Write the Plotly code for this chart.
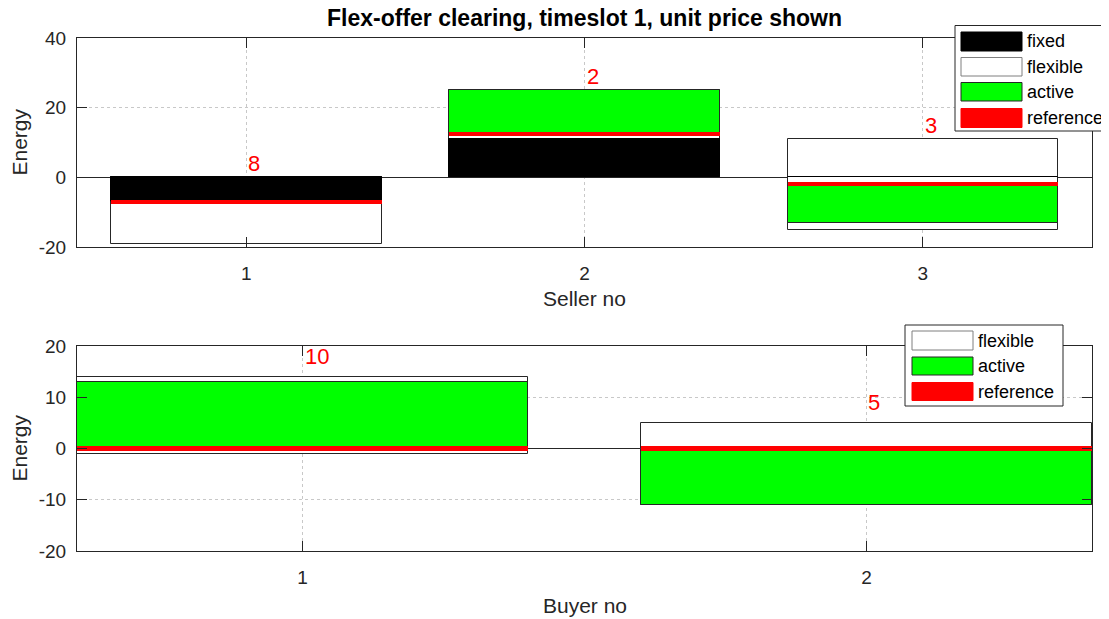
import plotly.graph_objects as go

# ---------------- data ----------------
sellers = [1, 2, 3]
seller_fixed = [-7, 11, 0]
seller_flex_min = [-19, 0, -15]
seller_flex_max = [0, 25, 11]
seller_reference = [-7, 12.3, -1.8]
seller_active_end = [-7, 25, -13]
seller_price = [8, 2, 3]

buyers = [1, 2]
buyer_flex_min = [-1, -11]
buyer_flex_max = [14, 5]
buyer_reference = [0, 0]
buyer_active_end = [13, -11]
buyer_price = [10, 5]

top_yticks = [-20, 0, 20, 40]
bot_yticks = [-20, -10, 0, 10, 20]

title_text = "Flex-offer clearing, timeslot 1, unit price shown"
legend_top = ["fixed", "flexible", "active", "reference"]
legend_bot = ["flexible", "active", "reference"]

# ---------------- style ----------------
OFF = 8  # page body margin
W, H = 1109 - OFF, 619 - OFF
FONT = "Liberation Sans, Arial, sans-serif"
BAR_W = 0.8
REF_T = 1.15
EDGE = "#262626"
C_FIXED = "#000000"
C_FLEX = "#ffffff"
C_ACTIVE = "#00ff00"
C_REF = "#ff0000"
swatch = {
    "fixed": (C_FIXED, "#000000"),
    "flexible": (C_FLEX, "#7f7f7f"),
    "active": (C_ACTIVE, "#262626"),
    "reference": (C_REF, C_REF),
}

fig = go.Figure()


def add_offers(xs, fmin, fmax, fixed, ref, act_end, xa, ya):
    # flexible (positive and negative part)
    fig.add_trace(go.Bar(x=xs, base=[0] * len(xs), y=[max(v, 0) for v in fmax],
                         width=BAR_W, marker=dict(color=C_FLEX, line=dict(color=EDGE, width=1)),
                         xaxis=xa, yaxis=ya, showlegend=False, hoverinfo="skip"))
    fig.add_trace(go.Bar(x=xs, base=[0] * len(xs), y=[min(v, 0) for v in fmin],
                         width=BAR_W, marker=dict(color=C_FLEX, line=dict(color=EDGE, width=1)),
                         xaxis=xa, yaxis=ya, showlegend=False, hoverinfo="skip"))
    if fixed is not None:
        fig.add_trace(go.Bar(x=xs, base=[0] * len(xs), y=fixed,
                             width=BAR_W, marker=dict(color=C_FIXED, line=dict(color="#000000", width=1)),
                             xaxis=xa, yaxis=ya, showlegend=False, hoverinfo="skip"))
    fig.add_trace(go.Bar(x=xs, base=ref, y=[e - r for e, r in zip(act_end, ref)],
                         width=BAR_W, marker=dict(color=C_ACTIVE, line=dict(color=EDGE, width=1)),
                         xaxis=xa, yaxis=ya, showlegend=False, hoverinfo="skip"))
    fig.add_trace(go.Bar(x=xs, base=[r - REF_T / 2 for r in ref], y=[REF_T] * len(xs),
                         width=BAR_W, marker=dict(color=C_REF, line=dict(width=0)),
                         xaxis=xa, yaxis=ya, showlegend=False, hoverinfo="skip"))


add_offers(sellers, seller_flex_min, seller_flex_max, seller_fixed,
           seller_reference, seller_active_end, "x", "y")
add_offers(buyers, buyer_flex_min, buyer_flex_max, None,
           buyer_reference, buyer_active_end, "x2", "y2")

annotations = []
# price labels
for xs, fmax, act, price, xr, yr in [
    (sellers, seller_flex_max, seller_active_end, seller_price, "x", "y"),
    (buyers, buyer_flex_max, buyer_active_end, buyer_price, "x2", "y2"),
]:
    for x, m, a, p in zip(xs, fmax, act, price):
        top = max(m, a, 0)
        annotations.append(dict(x=x, y=top + 4, xref=xr, yref=yr, text=str(p),
                                showarrow=False, xanchor="left", yanchor="middle",
                                font=dict(family=FONT, size=22, color=C_REF)))


def px_x(v):
    return (v - OFF) / W


def px_y(v):
    return 1 - (v - OFF) / H


# title and axis titles
annotations.append(dict(x=px_x(584.5), y=px_y(18), xref="paper", yref="paper", text="<b>" + title_text + "</b>",
                        showarrow=False, xanchor="center", yanchor="middle",
                        font=dict(family=FONT, size=23, color="#000000")))
annotations.append(dict(x=px_x(584.5), y=px_y(298), xref="paper", yref="paper", text="Seller no",
                        showarrow=False, xanchor="center", yanchor="middle",
                        font=dict(family=FONT, size=21, color="#262626")))
annotations.append(dict(x=px_x(584.5), y=px_y(605), xref="paper", yref="paper", text="Buyer no",
                        showarrow=False, xanchor="center", yanchor="middle",
                        font=dict(family=FONT, size=21, color="#262626")))
for yc in (142.5, 448.5):
    annotations.append(dict(x=px_x(19), y=px_y(yc), xref="paper", yref="paper", text="Energy",
                            showarrow=False, xanchor="center", yanchor="middle", textangle=-90,
                            font=dict(family=FONT, size=21, color="#262626")))

shapes = []


def add_legend(box, names, sw_x0, sw_x1, text_x, rows):
    x0, y0, x1, y1 = box
    shapes.append(dict(type="rect", xref="paper", yref="paper",
                       x0=px_x(x0), x1=px_x(x1), y0=px_y(y1), y1=px_y(y0),
                       fillcolor="#ffffff", line=dict(color="#262626", width=1), layer="above"))
    for name, (ra, rb) in zip(names, rows):
        fc, lc = swatch[name]
        shapes.append(dict(type="rect", xref="paper", yref="paper",
                           x0=px_x(sw_x0), x1=px_x(sw_x1), y0=px_y(rb), y1=px_y(ra),
                           fillcolor=fc, line=dict(color=lc, width=1), layer="above"))
        annotations.append(dict(x=px_x(text_x), y=px_y((ra + rb) / 2), xref="paper", yref="paper",
                                text=name, showarrow=False, xanchor="left", yanchor="middle",
                                font=dict(family=FONT, size=18, color="#000000")))


add_legend((955, 25.5, 1108, 131), legend_top, 961, 1022, 1025,
           [(32, 51), (57.5, 76), (82.5, 101), (108.5, 127.5)])
add_legend((905, 325, 1063, 406), legend_bot, 912, 973, 976,
           [(331, 350), (357, 375), (382.5, 400.5)])

axis_common = dict(showline=True, linecolor=EDGE, linewidth=1, mirror="ticks",
                   ticks="inside", ticklen=10, tickcolor=EDGE, tickwidth=1,
                   showgrid=True, gridcolor="#c8c8c8", griddash="dot", gridwidth=1,
                   tickfont=dict(family=FONT, size=19, color="#262626"),
                   layer="above traces", automargin=False)

fig.update_layout(
    template="none",
    width=W, height=H, autosize=False,
    margin=dict(l=0, r=0, t=0, b=0, pad=0),
    paper_bgcolor="#ffffff", plot_bgcolor="#ffffff",
    barmode="overlay", bargap=0, showlegend=False,
    xaxis=dict(domain=[px_x(77), px_x(1092)], range=[0.5, 3.5], tickvals=sellers,
               ticktext=[str(v) for v in sellers],
               anchor="y", zeroline=False, ticklabelstandoff=9, **axis_common),
    yaxis=dict(domain=[px_y(247), px_y(38)], range=[-20, 40], tickvals=top_yticks,
               ticktext=[str(v) for v in top_yticks],
               anchor="x", zeroline=True, zerolinecolor=EDGE, zerolinewidth=1,
               ticklabelstandoff=6, **axis_common),
    xaxis2=dict(domain=[px_x(77), px_x(1092)], range=[0.6, 2.4], tickvals=buyers,
                ticktext=[str(v) for v in buyers],
                anchor="y2", zeroline=False, ticklabelstandoff=9, **axis_common),
    yaxis2=dict(domain=[px_y(551), px_y(346)], range=[-20, 20], tickvals=bot_yticks,
                ticktext=[str(v) for v in bot_yticks],
                anchor="x2", zeroline=True, zerolinecolor=EDGE, zerolinewidth=1,
                ticklabelstandoff=6, **axis_common),
    annotations=annotations,
    shapes=shapes,
)

fig.write_html("out.html")
